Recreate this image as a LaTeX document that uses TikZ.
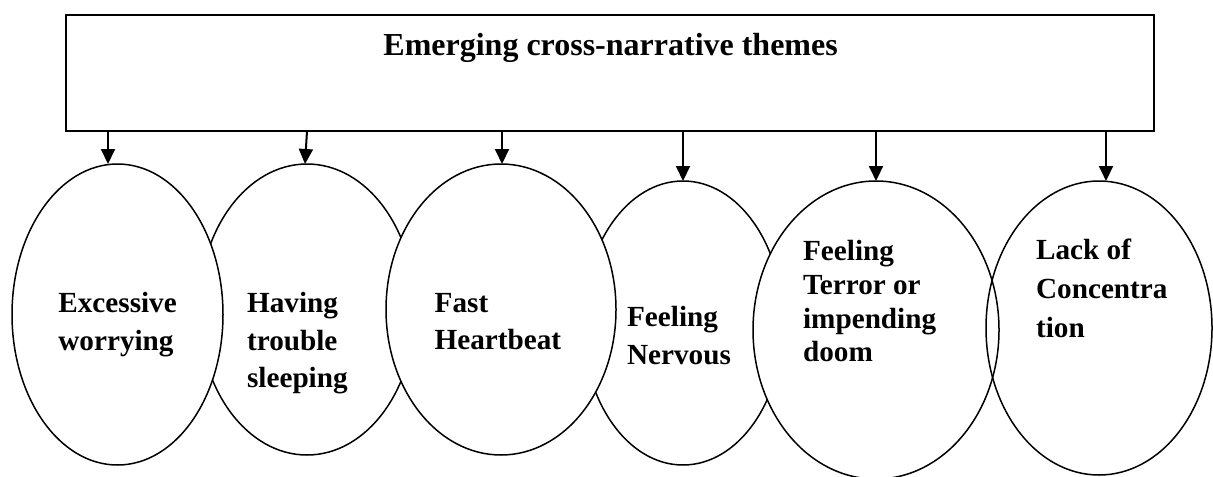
\documentclass[tikz,border=0pt]{standalone}
\usepackage{fontspec}
\setmainfont{Liberation Serif}
\usetikzlibrary{shapes.geometric,arrows.meta}
\tikzset{
  themebox/.style={draw=black,line width=1pt,minimum width=544pt,minimum height=58pt,inner sep=0pt},
  oval/.style={ellipse,draw=black,line width=0.75pt,inner sep=0pt},
  lbl/.style={anchor=base west,inner sep=0pt,align=left,font=\bfseries\fontsize{14.6}{18.75}\selectfont},
  arr/.style={line width=1pt,-{Triangle[length=7.5pt,width=7pt]}}
}
\begin{document}
\begin{tikzpicture}[x=0.5pt,y=-0.5pt]
\useasboundingbox (0,0) rectangle (1213,476);
% top box
\node[themebox] (box) at (610,73) {};
\node[lbl,font=\bfseries\fontsize{16}{19}\selectfont] (title) at (383,56) {Emerging cross-narrative themes};
% ellipses (back ones first)
\node[oval,fill=white,minimum width=108pt,minimum height=145.5pt] (e2) at (307,309.5) {};
\node[oval,fill=white,minimum width=100pt,minimum height=142pt] (e4) at (683,323) {};
\node[oval,fill=white,minimum width=105.5pt,minimum height=150.5pt] (e1) at (117.5,314.5) {};
\node[oval,fill=white,minimum width=115pt,minimum height=145.5pt] (e3) at (501,309.5) {};
\node[oval,fill=white,minimum width=123pt,minimum height=149pt] (e5) at (876,330) {};
\node[oval,minimum width=113pt,minimum height=147pt] (e6) at (1099,328) {};
% labels (anchored at the baseline of the last line)
\node[lbl] (l1) at (58,350) {Excessive\\worrying};
\node[lbl] (l2) at (246.7,387.7) {Having\\trouble\\sleeping};
\node[lbl] (l3) at (434.3,349.5) {Fast\\Heartbeat};
\node[lbl] (l4) at (626.7,364) {Feeling\\Nervous};
\node[lbl,font=\bfseries\fontsize{14.6}{16.85}\selectfont] (l5) at (802.7,361.7) {Feeling\\Terror or\\impending\\doom};
\node[lbl,font=\bfseries\fontsize{14.6}{19.35}\selectfont] (l6) at (1035.7,337.3) {Lack of\\Concentra\\tion};
% arrow end points
\coordinate (t1) at (108,164);
\coordinate (s2) at (307,131);
\coordinate (t2) at (305,164);
\coordinate (t3) at (502,164);
\coordinate (t4) at (683,181);
\coordinate (t5) at (876,181);
\coordinate (t6) at (1106,181);
\draw[arr] (box.south -| t1) -- (t1);
\draw[arr] (s2) -- (t2);
\draw[arr] (box.south -| t3) -- (t3);
\draw[arr] (box.south -| t4) -- (t4);
\draw[arr] (box.south -| t5) -- (t5);
\draw[arr] (box.south -| t6) -- (t6);
\end{tikzpicture}
\end{document}
